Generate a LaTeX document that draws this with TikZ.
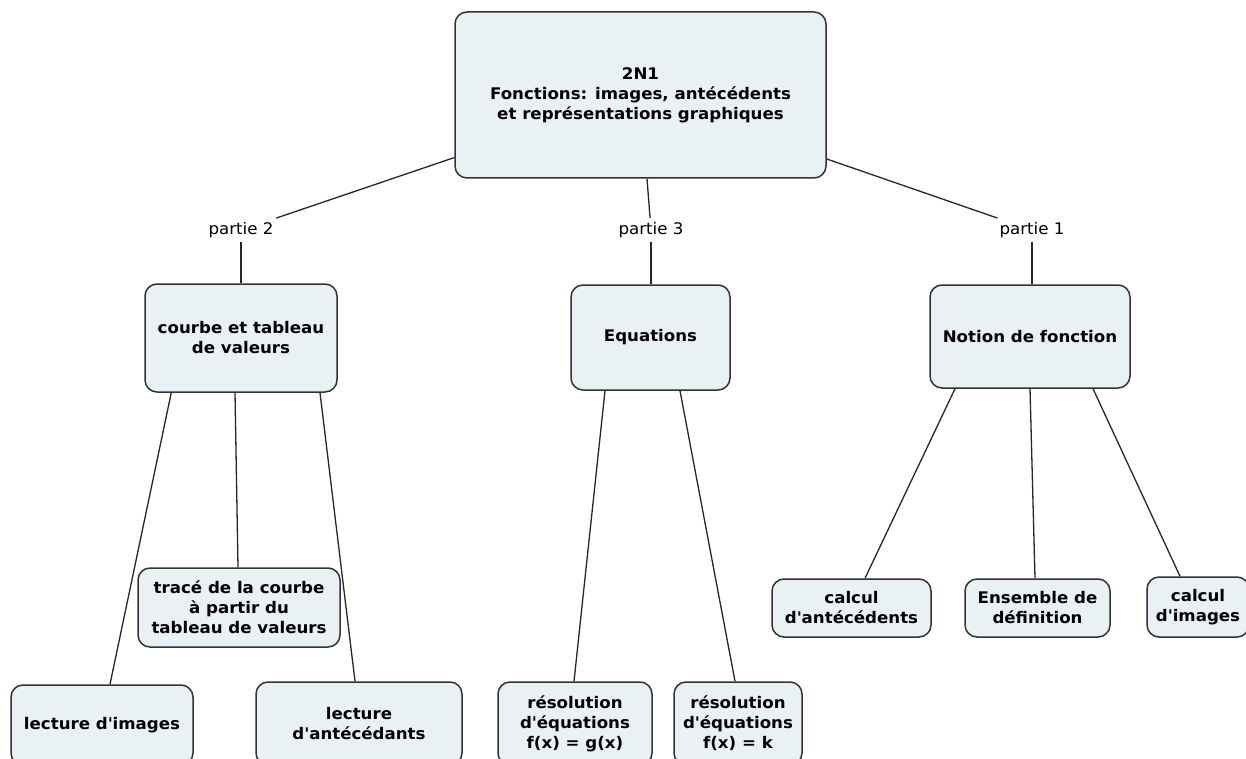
\documentclass[tikz,border=0pt]{standalone}
\usepackage{fontspec}
\setmainfont[FakeStretch=1.04]{DejaVu Sans}
\definecolor{boxfill}{RGB}{234,241,244}
\definecolor{boxline}{RGB}{50,50,50}
\newcommand{\ap}{\textquotesingle}
\tikzset{
  topic/.style={draw=boxline, fill=boxfill, line width=1.5pt, rounded corners=12pt,
    align=center, inner sep=0pt, font=\fontsize{16}{20}\selectfont\bfseries},
  part/.style={inner sep=4pt, font=\fontsize{16}{20}\selectfont},
  wire/.style={line width=1.3pt, black!85}
}
\begin{document}
\begin{tikzpicture}[x=1pt,y=-1pt]

    \clip (0,0) rectangle (1246,759);
    \useasboundingbox (0,0) rectangle (1246,759);

    % top level
    \node[topic, minimum width=371pt, minimum height=166pt] (root) at (640.5,95)
        {2N1\\Fonctions: images, antécédents\\ et représentations graphiques};

    \node[part] (p2) at (241,230) {partie 2};
    \node[part] (p3) at (651,230) {partie 3};
    \node[part] (p1) at (1032,230) {partie 1};

    % second level
    \node[topic, minimum width=192pt, minimum height=108pt] (courbe) at (241,338)
        {courbe et tableau\\de valeurs};
    \node[topic, minimum width=159pt, minimum height=105pt] (equa) at (650.5,337.5)
        {Equations};
    \node[topic, minimum width=200pt, minimum height=103pt] (notion) at (1030,336.5)
        {Notion de fonction};

    % leaves of partie 2
    \node[topic, minimum width=202pt, minimum height=79pt] (trace) at (239,607.5)
        {tracé de la courbe\\à partir du\\tableau de valeurs};
    \node[topic, minimum width=182pt, minimum height=80pt] (limg) at (102,725)
        {lecture d\ap images};
    \node[topic, minimum width=206pt, minimum height=83pt] (lant) at (359,723.5)
        {lecture\\d\ap antécédants};

    % leaves of partie 3
    \node[topic, minimum width=154pt, minimum height=83pt] (resg) at (575,723.5)
        {résolution\\d\ap équations\\f(x) = g(x)};
    \node[topic, minimum width=128pt, minimum height=83pt] (resk) at (738,723.5)
        {résolution\\d\ap équations\\f(x) = k};

    % leaves of partie 1
    \node[topic, minimum width=159pt, minimum height=58pt] (calant) at (851.5,608)
        {calcul\\d\ap antécédents};
    \node[topic, minimum width=145pt, minimum height=58pt] (ens) at (1037.5,608)
        {Ensemble de\\définition};
    \node[topic, minimum width=102pt, minimum height=60pt] (calimg) at (1198,607)
        {calcul\\d\ap images};

    % connectors
    \draw[wire] (root) -- (p2);
    \draw[wire] (root) -- (p3);
    \draw[wire] (root) -- (p1);
    \draw[wire] (p2) -- (courbe);
    \draw[wire] (p3) -- (p3 |- equa.north);
    \draw[wire] (p1) -- (p1 |- notion.north);

    \draw[wire] ([xshift=27pt]courbe.south west) -- ([xshift=8pt]limg.north);
    \draw[wire] ([xshift=-6pt]courbe.south) -- ([xshift=-1pt]trace.north);
    \draw[wire] ([xshift=79pt]courbe.south) -- ([xshift=-4pt]lant.north);

    \draw[wire] ([xshift=-45.5pt]equa.south) -- ([xshift=-1pt]resg.north);
    \draw[wire] ([xshift=29.5pt]equa.south) -- ([xshift=-3pt]resk.north);

    \draw[wire] ([xshift=-75pt]notion.south) -- ([xshift=13.5pt]calant.north);
    \draw[wire] (notion.south) -- ([xshift=-2.5pt]ens.north);
    \draw[wire] ([xshift=63pt]notion.south) -- ([xshift=-18pt]calimg.north);
\end{tikzpicture}
\end{document}
